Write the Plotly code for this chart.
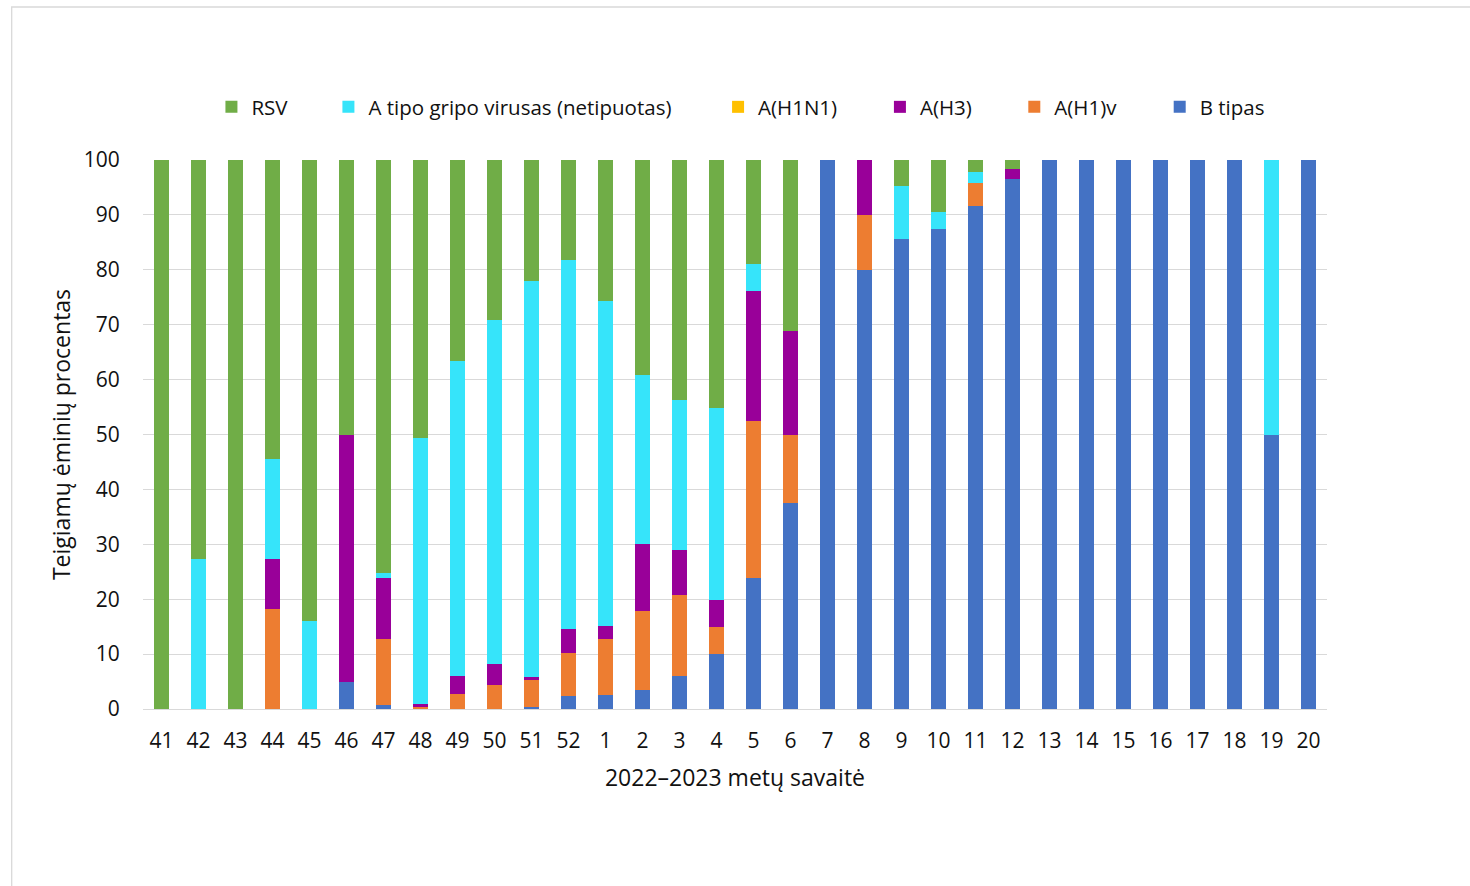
import plotly.graph_objects as go

# Epidemiological weeks of the 2022–2023 season
weeks = ["41", "42", "43", "44", "45", "46", "47", "48", "49", "50", "51", "52",
         "1", "2", "3", "4", "5", "6", "7", "8", "9", "10", "11", "12",
         "13", "14", "15", "16", "17", "18", "19", "20"]

# Share of positive samples (%) by pathogen, stacked bottom to top
b_tipas = [0, 0, 0, 0, 0, 5.0, 0.8, 0, 0, 0, 0.3, 2.3,
           2.5, 3.5, 6.1, 10.0, 23.8, 37.5, 100, 80.0, 85.7, 87.5, 91.6, 96.6,
           100, 100, 100, 100, 100, 100, 50.0, 100]
a_h1v = [0, 0, 0, 18.2, 0, 0, 11.9, 0.3, 2.8, 4.3, 5.0, 7.9,
         10.2, 14.4, 14.6, 4.9, 28.6, 12.5, 0, 10.0, 0, 0, 4.2, 0,
         0, 0, 0, 0, 0, 0, 0, 0]
a_h3 = [0, 0, 0, 9.1, 0, 45.0, 11.1, 0.7, 3.3, 3.9, 0.5, 4.4,
        2.5, 12.1, 8.3, 4.9, 23.8, 18.8, 0, 10.0, 0, 0, 0, 1.7,
        0, 0, 0, 0, 0, 0, 0, 0]
a_h1n1 = [0, 0, 0, 0, 0, 0, 0, 0, 0, 0, 0, 0,
          0, 0, 0, 0, 0, 0, 0, 0, 0, 0, 0, 0,
          0, 0, 0, 0, 0, 0, 0, 0]
a_netipuotas = [0, 27.3, 0, 18.2, 16.1, 0, 1.0, 48.4, 57.3, 62.7, 72.1, 67.2,
                59.1, 30.8, 27.2, 35.1, 4.8, 0, 0, 0, 9.5, 3.1, 2.1, 0,
                0, 0, 0, 0, 0, 0, 50.0, 0]
rsv = [100, 72.7, 100, 54.5, 83.9, 50.0, 75.2, 50.6, 36.6, 29.1, 22.1, 18.2,
       25.7, 39.2, 43.8, 45.1, 19.0, 31.2, 0, 0, 4.8, 9.4, 2.1, 1.7,
       0, 0, 0, 0, 0, 0, 0, 0]

y_ticks = [0, 10, 20, 30, 40, 50, 60, 70, 80, 90, 100]

FONT = "'Open Sans', Lato, sans-serif"
TXT = "#111111"

# name, values, colour, legend id, legend x (paper)
series = [
    ("B tipas", b_tipas, "#4472C4", "legend7", 0.8587),
    ("A(H1)v", a_h1v, "#ED7D31", "legend6", 0.7359),
    ("A(H3)", a_h3, "#990099", "legend5", 0.6224),
    ("A(H1N1)", a_h1n1, "#FFC000", "legend4", 0.4857),
    ("A tipo gripo virusas (netipuotas)", a_netipuotas, "#36E4FA", "legend3", 0.1566),
    ("RSV", rsv, "#70AD47", "legend2", 0.0578),
]

fig = go.Figure()
for name, vals, color, leg, _ in series:
    fig.add_trace(go.Bar(
        x=weeks, y=vals, name=name, legend=leg,
        marker=dict(color=color, line=dict(width=0)),
    ))

layout_legends = {}
for name, vals, color, leg, lx in series:
    layout_legends[leg] = dict(
        x=lx, y=1.0965, xanchor="left", yanchor="middle",
        orientation="h", bgcolor="rgba(0,0,0,0)",
        font=dict(family=FONT, size=20.5, color=TXT),
        itemclick=False, itemdoubleclick=False,
    )

fig.update_layout(
    width=1470, height=886,
    margin=dict(l=142.5, r=142.5, t=160, b=177),
    paper_bgcolor="white", plot_bgcolor="white",
    barmode="stack", bargap=0.57,
    showlegend=True,
    font=dict(family=FONT, size=19, color=TXT),
    xaxis=dict(
        type="category", tickmode="array", tickvals=weeks, ticktext=weeks,
        ticks="outside", ticklen=13, tickcolor="rgba(0,0,0,0)",
        tickfont=dict(size=21, color=TXT),
        showline=True, linecolor="#d9d9d9", linewidth=1.3,
        showgrid=False,
        title=dict(text="2022–2023 metų savaitė", font=dict(size=23, color=TXT), standoff=16),
    ),
    yaxis=dict(
        range=[0, 100], tickmode="array", tickvals=y_ticks,
        ticks="outside", ticklen=18, tickcolor="rgba(0,0,0,0)",
        tickfont=dict(size=21, color=TXT),
        showgrid=True, gridcolor="#d9d9d9", gridwidth=1.3,
        zeroline=False, showline=False,
        title=dict(text="Teigiamų ėminių procentas", font=dict(size=23, color=TXT), standoff=6),
    ),
    **layout_legends,
)

# Outer chart frame
fig.add_shape(type="rect", xref="paper", yref="paper",
              x0=-0.1109, x1=1.15, y0=-0.40, y1=1.2787,
              line=dict(color="#d9d9d9", width=1.3), fillcolor="rgba(0,0,0,0)",
              layer="below")

fig.write_html("out.html")
